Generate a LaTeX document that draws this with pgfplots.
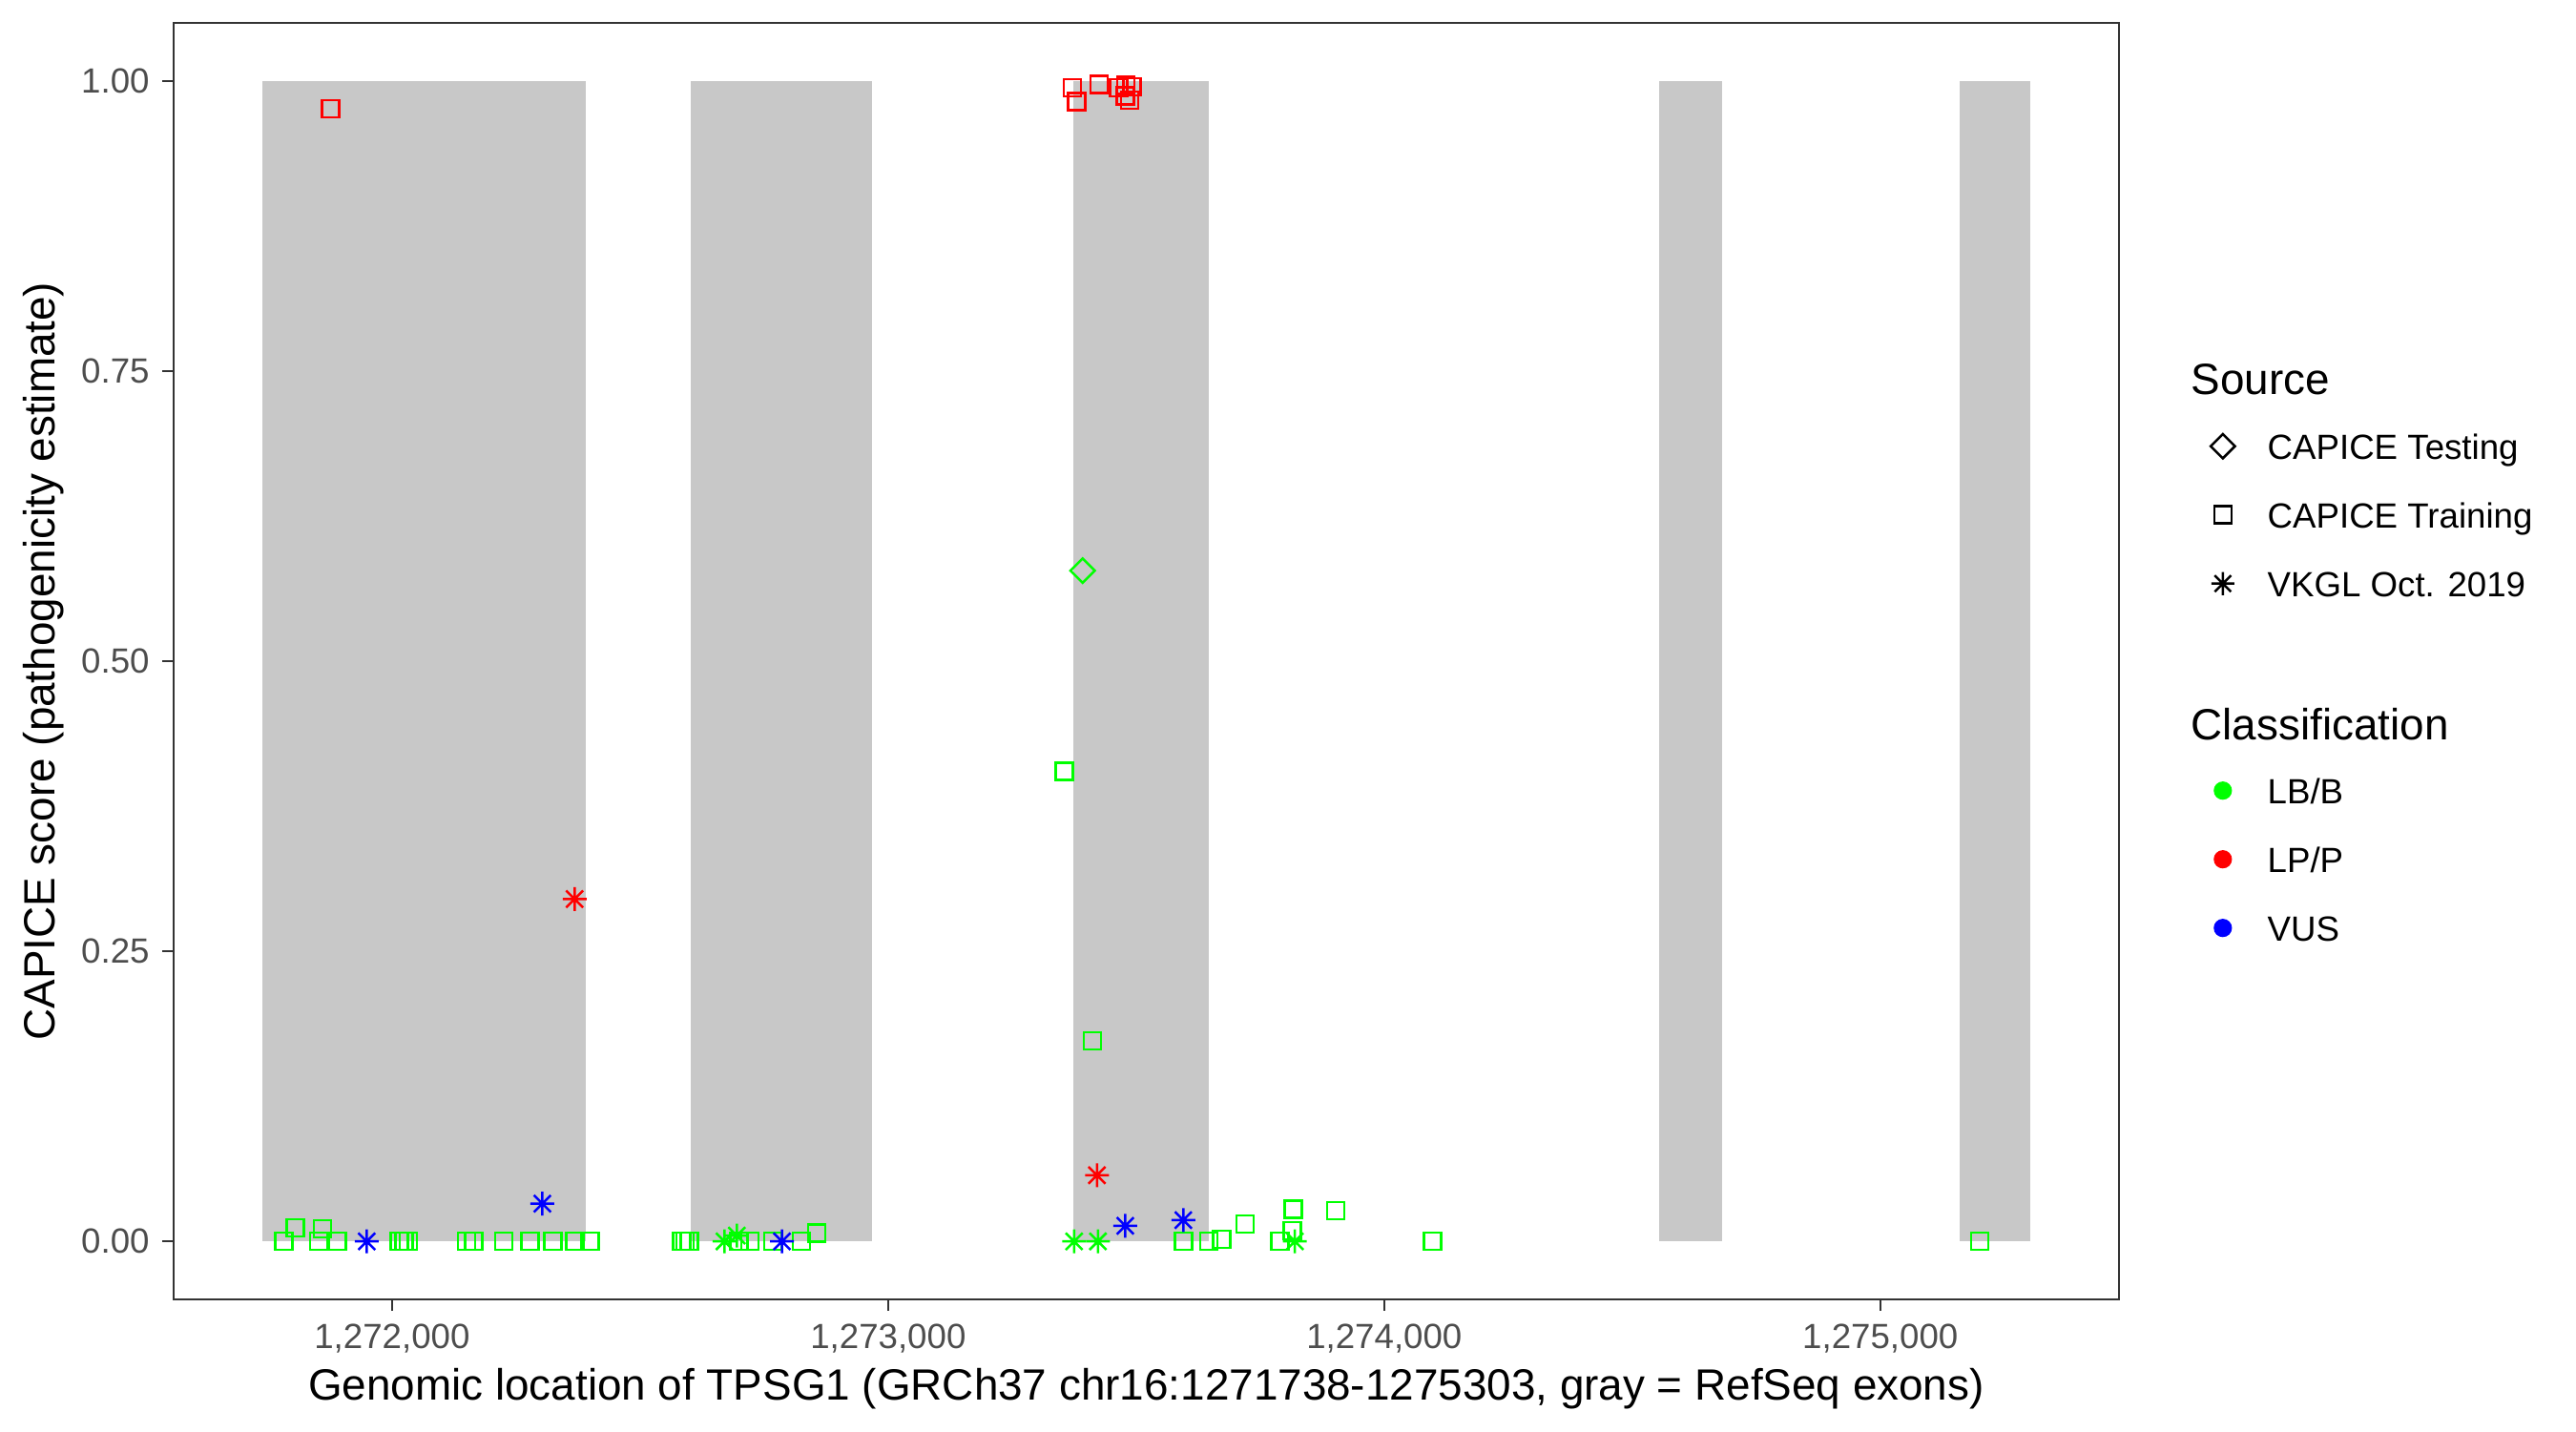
\documentclass[border=0pt]{standalone}
\usepackage{pgfplots}
\pgfplotsset{compat=1.18}
\usepackage{fontspec}
\setmainfont{Liberation Sans}
\definecolor{lbgreen}{RGB}{0,255,0}
\definecolor{lpred}{RGB}{255,0,0}
\definecolor{vusblue}{RGB}{0,0,255}
\definecolor{exongray}{RGB}{200,200,200}
\definecolor{gray20}{RGB}{51,51,51}
\definecolor{gray30}{RGB}{77,77,77}
% ggplot shape 8: plus and cross together
\pgfdeclareplotmark{ast8}{%
  \pgfpathmoveto{\pgfqpoint{0pt}{\pgfplotmarksize}}%
  \pgfpathlineto{\pgfqpoint{0pt}{-\pgfplotmarksize}}%
  \pgfpathmoveto{\pgfqpoint{\pgfplotmarksize}{0pt}}%
  \pgfpathlineto{\pgfqpoint{-\pgfplotmarksize}{0pt}}%
  \pgfpathmoveto{\pgfqpoint{0.7071\pgfplotmarksize}{0.7071\pgfplotmarksize}}%
  \pgfpathlineto{\pgfqpoint{-0.7071\pgfplotmarksize}{-0.7071\pgfplotmarksize}}%
  \pgfpathmoveto{\pgfqpoint{-0.7071\pgfplotmarksize}{0.7071\pgfplotmarksize}}%
  \pgfpathlineto{\pgfqpoint{0.7071\pgfplotmarksize}{-0.7071\pgfplotmarksize}}%
  \pgfusepathqstroke
}
\pgfplotsset{
  legmark/.style={legend image code/.code={\path (0pt,-1pt) (19.2pt,1pt);\draw[##1] plot coordinates {(8.16pt,3.2pt)};}},
}
\newcommand{\itemstrut}{\rule[-8.64pt]{0pt}{17.28pt}}
\begin{document}
\begin{tikzpicture}
\useasboundingbox (0,0) rectangle (648pt,360pt);
% x values are positions on chr16 minus 1,270,000
\begin{axis}[
  at={(43.68pt,354.24pt)}, anchor=north west,
  scale only axis, width=489.36pt, height=321.12pt,
  xmin=1559.75, xmax=5481.25, ymin=-0.05, ymax=1.05,
  scaled ticks=false,
  axis line style={gray20, line width=0.5pt},
  xtick pos=bottom, ytick pos=left,
  tick align=outside, major tick length=2.9pt,
  tick style={gray20, line width=0.5pt},
  xtick={2000,3000,4000,5000},
  xticklabels={{1,272,000},{1,273,000},{1,274,000},{1,275,000}},
  ytick={0,0.25,0.5,0.75,1},
  yticklabels={0.00,0.25,0.50,0.75,1.00},
  tick label style={font=\fontsize{8.8}{10.5}\selectfont, text=gray30},
  xticklabel style={anchor=north, inner sep=0pt, yshift=-3.1pt},
  yticklabel style={anchor=east, inner sep=0pt, xshift=-3.0pt},
  every axis x label/.style={at={(axis description cs:0.5,-0.0790)}, anchor=base, font=\fontsize{11}{13}\selectfont},
  every axis y label/.style={at={(axis description cs:-0.0613,0.5)}, rotate=90, anchor=base, font=\fontsize{11}{13}\selectfont},
  xlabel={Genomic location of TPSG1 (GRCh37 chr16:1271738-1275303, gray = RefSeq exons)},
  ylabel={CAPICE score (pathogenicity estimate)},
  legend style={at={(axis description cs:1.03629,0.73617)}, anchor=north west,
    draw=none, fill=none, inner sep=0pt, outer sep=0pt, row sep=0pt, column sep=0pt,
    cells={anchor=base west}, nodes={inner sep=0pt, outer sep=0pt, text depth=},
    font=\fontsize{8.8}{10.5}\selectfont},
]
% exons
\addplot[fill=exongray, draw=none, forget plot] coordinates {(1738,0) (1738,1) (2390,1) (2390,0)} -- cycle;
\addplot[fill=exongray, draw=none, forget plot] coordinates {(2602,0) (2602,1) (2968,1) (2968,0)} -- cycle;
\addplot[fill=exongray, draw=none, forget plot] coordinates {(3373,0) (3373,1) (3647,1) (3647,0)} -- cycle;
\addplot[fill=exongray, draw=none, forget plot] coordinates {(4554,0) (4554,1) (4681,1) (4681,0)} -- cycle;
\addplot[fill=exongray, draw=none, forget plot] coordinates {(5160,0) (5160,1) (5303,1) (5303,0)} -- cycle;
% CAPICE Training, LB/B
\addplot[only marks, mark=square, mark size=2.16pt, color=lbgreen, mark options={line width=0.6pt}, forget plot] table {
x y
1782 0
1805 0.0115
1852 0
1860 0.011
1890 0
2015 0
2024 0
2033 0
2150 0
2165 0
2225 0
2278 0
2324 0
2368 0
2399 0
2584 0
2591 0
2599 0
2699 0
2721 0
2768 0
2825 0
2856 0.007
3355 0.405
3412 0.173
3595 0
3646 0
3672 0.002
3720 0.015
3790 0
3817 0.0276
3815 0.0093
3902 0.0265
4097 0
5200 0
};
% CAPICE Testing, LB/B
\addplot[only marks, mark=square, mark size=2.16pt, color=lbgreen, mark options={line width=0.6pt, rotate=45}, forget plot] table {
x y
3392 0.578
};
% CAPICE Training, LP/P
\addplot[only marks, mark=square, mark size=2.16pt, color=lpred, mark options={line width=0.6pt}, forget plot] table {
x y
1876 0.976
3371 0.994
3380 0.982
3425 0.997
3465 0.994
3479 0.996
3492 0.995
3478 0.987
3487 0.9835
};
% VKGL, LB/B
\addplot[only marks, mark=ast8, mark size=3pt, color=lbgreen, mark options={line width=0.6pt}, forget plot] table {
x y
2670 0
2695 0.005
3375 0
3423 0
3820 0
};
% VKGL, LP/P
\addplot[only marks, mark=ast8, mark size=3pt, color=lpred, mark options={line width=0.6pt}, forget plot] table {
x y
2368 0.295
3421 0.057
};
% VKGL, VUS
\addplot[only marks, mark=ast8, mark size=3pt, color=vusblue, mark options={line width=0.6pt}, forget plot] table {
x y
1949 0
2303 0.0325
2786 0
3478 0.0134
3595 0.0183
};
% legend
\addlegendimage{empty legend}
\addlegendentry{\fontsize{11}{13}\selectfont\hspace*{-19.2pt}\rule[-7.68pt]{0pt}{16.32pt}Source}
\addlegendimage{black, mark=square, mark size=2.16pt, mark options={line width=0.6pt, rotate=45}, legmark}
\addlegendentry{\itemstrut CAPICE Testing}
\addlegendimage{black, mark=square, mark size=2.16pt, mark options={line width=0.6pt}, legmark}
\addlegendentry{\itemstrut CAPICE Training}
\addlegendimage{black, mark=ast8, mark size=2.9pt, mark options={line width=0.6pt}, legmark}
\addlegendentry{\itemstrut VKGL Oct. 2019}
\addlegendimage{empty legend}
\addlegendentry{\fontsize{11}{13}\selectfont\hspace*{-19.2pt}\rule[-7.44pt]{0pt}{34.8pt}Classification}
\addlegendimage{lbgreen, mark=*, mark size=2.1pt, legmark}
\addlegendentry{\itemstrut LB/B}
\addlegendimage{lpred, mark=*, mark size=2.1pt, legmark}
\addlegendentry{\itemstrut LP/P}
\addlegendimage{vusblue, mark=*, mark size=2.1pt, legmark}
\addlegendentry{\itemstrut VUS}
\end{axis}
\end{tikzpicture}
\end{document}
